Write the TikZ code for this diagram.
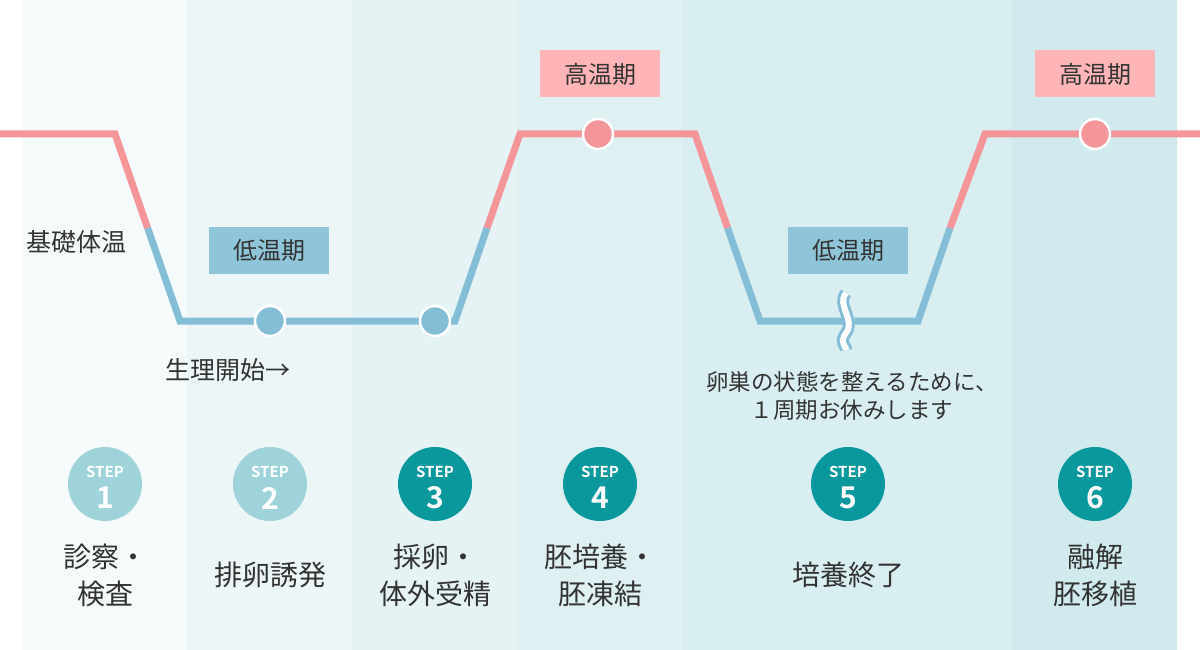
\documentclass[tikz,border=0pt]{standalone}
\usepackage{fontspec}
\setmainfont{Noto Sans CJK JP}
\newfontfamily\stepfont{Noto Sans CJK JP Bold}
\usetikzlibrary{positioning}
\definecolor{pinkline}{HTML}{F4959A}
\definecolor{blueline}{HTML}{84BED6}
\definecolor{pinkbox}{HTML}{FFB5B7}
\definecolor{bluebox}{HTML}{8FC5D8}
\definecolor{stepdark}{HTML}{0A989D}
\definecolor{steplight}{HTML}{9DD3D9}
\definecolor{txt}{HTML}{333333}
\definecolor{colA}{HTML}{F5FAFB}
\definecolor{colB}{HTML}{ECF6F7}
\definecolor{colC}{HTML}{E5F3F5}
\definecolor{colD}{HTML}{DFF0F3}
\definecolor{colE}{HTML}{D9EEF1}
\definecolor{colF}{HTML}{D0EAEE}
\tikzset{
  curve/.style={line width=7pt},
  phase/.style={minimum width=120pt, minimum height=47pt, inner sep=0pt, font=\fontsize{24}{24}\selectfont, text=txt},
  dot/.style={circle, draw=white, line width=2.5pt, minimum size=30pt, inner sep=0pt},
  stepcircle/.style={circle, minimum size=74pt, inner sep=0pt},
  steptag/.style={inner sep=0pt, text=white, font=\stepfont\fontsize{15}{15}\selectfont},
  stepno/.style={inner sep=0pt, text=white, font=\stepfont\fontsize{30}{30}\selectfont},
  steplabel/.style={font=\fontsize{28}{37}\selectfont, text=txt, align=center},
  note/.style={font=\fontsize{25}{27}\selectfont, text=txt, align=center},
  remark/.style={font=\fontsize{22.5}{28}\selectfont, text=txt, align=center}
}
\begin{document}
\begin{tikzpicture}[x=1pt,y=-1pt]
  \useasboundingbox (0,0) rectangle (1200,650);
  % columns
  \fill[colA] (22,0) rectangle (187,650);
  \fill[colB] (187,0) rectangle (352,650);
  \fill[colC] (352,0) rectangle (517,650);
  \fill[colD] (517,0) rectangle (682,650);
  \fill[colE] (682,0) rectangle (1012,650);
  \fill[colF] (1012,0) rectangle (1177,650);
  % curve
  \draw[curve, pinkline] (0,134) -- (115,134) -- (147.6,228);
  \draw[curve, blueline] (147.6,228) -- (180,321) -- (455,321) -- (487,228);
  \draw[curve, pinkline] (487,228) -- (520,134) -- (695,134) -- (727.6,228);
  \draw[curve, blueline] (727.6,228) -- (760,321) -- (918,321) -- (950,228);
  \draw[curve, pinkline] (950,228) -- (985,134) -- (1200,134);
  % break
  \draw[line width=12pt, blueline] (846,293) .. controls (836,305) and (856,320) .. (846,333) .. controls (838,343) and (848,348) .. (846,350);
  \draw[line width=6pt, white] (846,293) .. controls (836,305) and (856,320) .. (846,333) .. controls (838,343) and (848,348) .. (846,350);
  % dots
  \node[dot, fill=blueline] (m1) at (270,321) {};
  \node[dot, fill=blueline] (m2) at (435,321) {};
  \node[dot, fill=pinkline] (m3) at (598,134) {};
  \node[dot, fill=pinkline] (m4) at (1095,134) {};
  % phase boxes
  \node[phase, fill=pinkbox] (high1) at (600,74) {高温期};
  \node[phase, fill=pinkbox] (high2) at (1095,74) {高温期};
  \node[phase, fill=bluebox] (low1) at (269,250) {低温期};
  \node[phase, fill=bluebox] (low2) at (848,250) {低温期};
  % texts
  \node[note] (bbt) at (77,242) {基礎体温};
  \node[note] (start) at (228,370) {生理開始→};
  \node[remark] (rest) at (852,396) {卵巣の状態を整えるために、\\１周期お休みします};
  % steps
  \foreach \n/\x/\c/\t in {1/105/steplight/{診察・\\検査},2/270/steplight/{排卵誘発},3/435/stepdark/{採卵・\\体外受精},4/600/stepdark/{胚培養・\\胚凍結},5/848/stepdark/{培養終了},6/1095/stepdark/{融解\\胚移植}}{
    \node[stepcircle, fill=\c] (s\n) at (\x,484) {};
    \node[steptag] (t\n) at (\x,472) {STEP};
    \node[stepno] (n\n) at (\x,498) {\n};
    \node[steplabel] (l\n) at (\x,575) {\t};
  }
\end{tikzpicture}
\end{document}
